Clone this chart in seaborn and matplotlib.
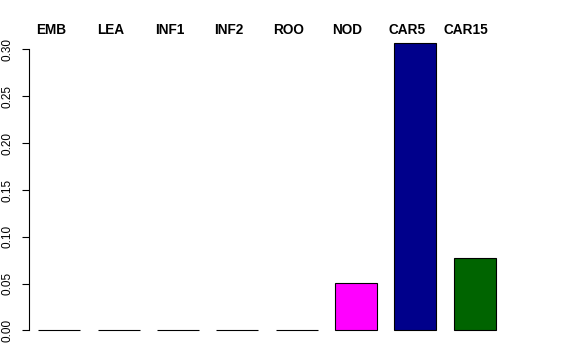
import numpy as np
import pandas as pd
import matplotlib
matplotlib.use("Agg")
import matplotlib.pyplot as plt
import matplotlib.transforms as mtransforms
import seaborn as sns

categories = ["EMB", "LEA", "INF1", "INF2", "ROO", "NOD", "CAR5", "CAR15"]
values = [0.0, 0.0, 0.0, 0.0, 0.0, 0.0504, 0.307, 0.0777]
colors = ["#8B4513", "#A0522D", "#228B22", "#9ACD32", "#D2691E", "#FF00FF", "#00008B", "#006400"]
yticks = [0.00, 0.05, 0.10, 0.15, 0.20, 0.25, 0.30]

sns.set_theme(style="white")
plt.rcParams["font.family"] = ["Liberation Sans", "DejaVu Sans"]

W, H = 576, 360
fig = plt.figure(figsize=(W / 100, H / 100), dpi=100)
left, right, bottom_px, top_px = 29, 504.2, 342, 31.7
ax = fig.add_axes([left / W, (H - bottom_px) / H, (right - left) / W, (bottom_px - top_px) / H])

df = pd.DataFrame({"cat": categories, "val": values})
sns.barplot(data=df, x="cat", y="val", hue="cat", palette=colors, legend=False,
            order=categories, width=0.708, edgecolor="black", linewidth=0.8,
            saturation=1, ax=ax)

ax.set_xlim(-0.514, 7.5)
ax.set_ylim(-0.0123, 0.319)
ax.set_xlabel("")
ax.set_ylabel("")
ax.set_xticks([])
ax.set_yticks(yticks)
ax.set_yticklabels([f"{v:.2f}" for v in yticks], rotation=90, va="center",
                   fontsize=8.5, color="black")
ax.tick_params(axis="y", left=True, length=5, width=0.8, pad=6, color="black")
for s in ["top", "right", "bottom"]:
    ax.spines[s].set_visible(False)
ax.spines["left"].set_bounds(0, 0.30)
ax.spines["left"].set_color("black")
ax.spines["left"].set_linewidth(0.8)
ax.grid(False)

offset = mtransforms.ScaledTranslation(-8.5 / 100, 0, fig.dpi_scale_trans)
trans = mtransforms.blended_transform_factory(ax.transData, fig.transFigure) + offset
for i, c in enumerate(categories):
    ax.text(i, (H - 34.3) / H, c, transform=trans, ha="center", va="baseline",
            fontsize=9.8, fontweight="bold", color="black", clip_on=False)

fig.savefig("out.png", dpi=100, facecolor="white")
